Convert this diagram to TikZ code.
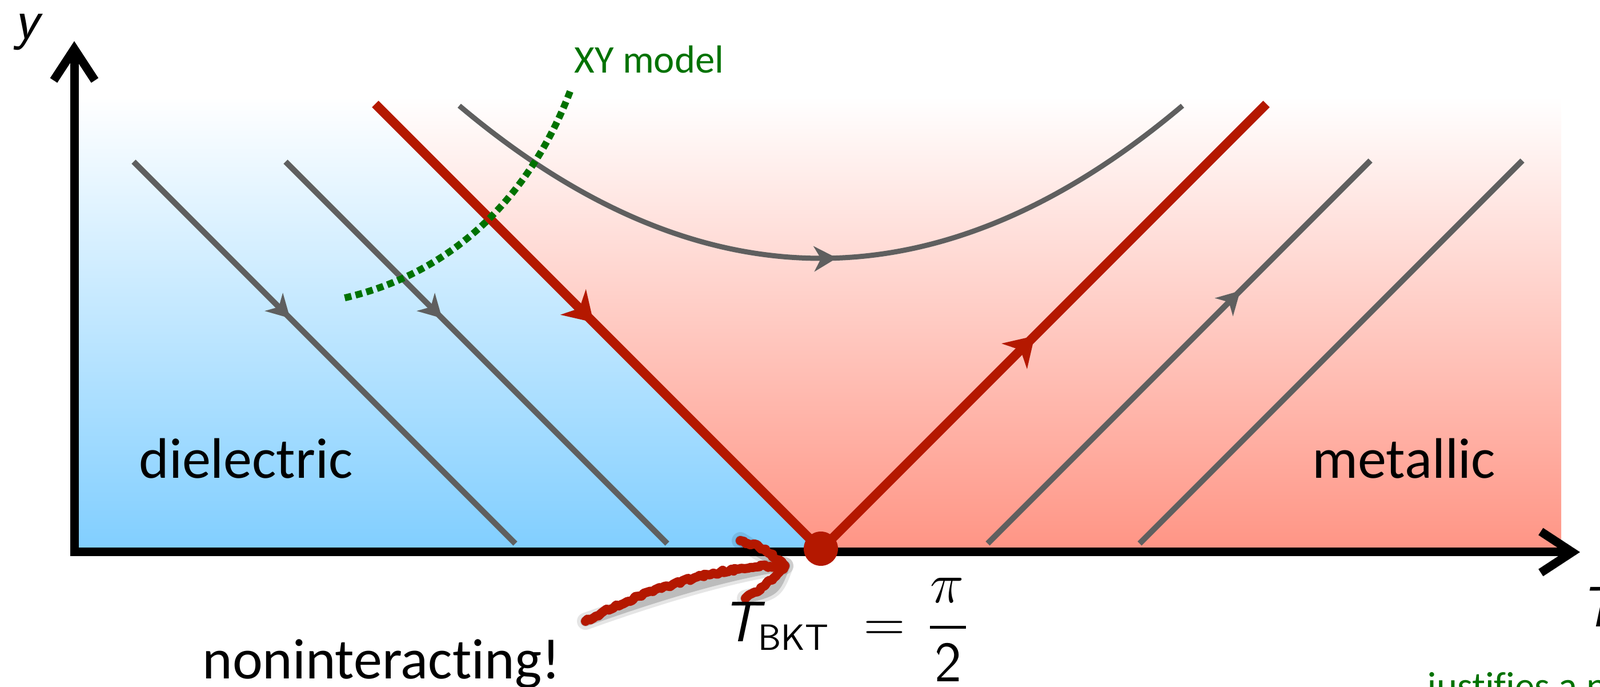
\documentclass[tikz,border=0pt]{standalone}
\usepackage{fix-cm}
\usepackage{fontspec}
\setmainfont{Carlito}[Ligatures=NoCommon]
\usetikzlibrary{arrows.meta,decorations.markings,decorations.pathmorphing}
\definecolor{flowred}{RGB}{180,24,0}
\definecolor{flowgray}{RGB}{95,95,95}
\definecolor{xygreen}{RGB}{0,114,0}
\definecolor{bluebot}{RGB}{128,206,255}
\definecolor{redbot}{RGB}{255,148,132}
\newcommand\bigsz{\fontsize{28.45}{34}\selectfont}
\newcommand\midsz{\fontsize{19.5}{23}\selectfont}
\newcommand\subsz{\fontsize{18.2}{22}\selectfont}
\tikzset{
  flow/.style={draw=flowgray, line width=0.10cm},
  crit/.style={draw=flowred, line width=0.16cm},
  grayarr/.style={postaction={decorate}, decoration={markings,
     mark=at position #1 with {\arrow{Stealth[length=0.40cm,width=0.44cm,inset=0.12cm,color=flowgray]}}}},
  redarr/.style={postaction={decorate}, decoration={markings,
     mark=at position #1 with {\arrow{Stealth[length=0.50cm,width=0.62cm,inset=0.15cm,color=flowred]}}}},
  axis/.style={draw=black, line width=0.15cm,
     arrows={Straight Barb[length=0.55cm,width=0.72cm]-Straight Barb[length=0.55cm,width=0.72cm]}},
  xydots/.style={draw=xygreen, line width=0.12cm, dash pattern=on 0.12cm off 0.075cm},
  lbl/.style={inner sep=0pt, anchor=base west},
  chalk/.style={draw=flowred, line width=0.16cm, line cap=round, line join=round,
     decorate, decoration={random steps, segment length=0.05cm, amplitude=0.025cm}},
  chalkshadow/.style={draw=black, line cap=round, line join=round}
}
\begin{document}
\begin{tikzpicture}
\useasboundingbox (0,0) rectangle (28.01,12.02);
\clip (0,0) rectangle (28.01,12.02);

% key coordinates
\coordinate (O) at (1.30,2.36);
\coordinate (ytip) at (1.30,11.30);
\coordinate (xtip) at (27.66,2.36);
\coordinate (V) at (14.37,2.40);
\coordinate (bnd) at (6.45,10.32);
\coordinate (Lred) at (6.57,10.20);
\coordinate (Rred) at (22.17,10.20);

% phase regions
\shade[top color=white, bottom color=bluebot]
  (O) -- (1.30,10.32) -- (bnd) -- (V) -- cycle;
\shade[top color=white, bottom color=redbot]
  (V) -- (bnd) -- (27.33,10.32) -- (27.33,2.36) -- cycle;

% axes
\draw[axis] (ytip) -- (O) -- (xtip);

% flow lines (dielectric side)
\coordinate (g1a) at (2.34,9.19);  \coordinate (g1b) at (9.02,2.51);
\coordinate (g2a) at (5.00,9.19);  \coordinate (g2b) at (11.68,2.51);
\draw[flow, grayarr=0.41] (g1a) -- (g1b);
\draw[flow, grayarr=0.41] (g2a) -- (g2b);
% flow lines (metallic side)
\coordinate (g3a) at (17.29,2.51); \coordinate (g3b) at (23.99,9.21);
\coordinate (g4a) at (19.95,2.51); \coordinate (g4b) at (26.65,9.21);
\draw[flow, grayarr=0.66] (g3a) -- (g3b);
\draw[flow] (g4a) -- (g4b);
% curved flow
\coordinate (pa) at (8.04,10.17); \coordinate (pb) at (20.70,10.17);
\draw[flow, line width=0.09cm, grayarr=0.52] (pa) .. controls (12.26,6.61) and (16.48,6.61) .. (pb);

% critical lines
\draw[crit, redarr=0.49] (Lred) -- (V);
\draw[crit, redarr=0.48] (V) -- (Rred);

% XY model line
\coordinate (xya) at (9.98,10.42);
\coordinate (xyb) at (6.00,6.80);
\draw[xydots] (xya) .. controls (9.4,8.9) and (8.2,7.3) .. (xyb);

% critical point
\fill[flowred] (14.37,2.42) circle (0.30);

% hand-drawn arrow
\coordinate (ct) at (10.25,1.15);
\coordinate (ch) at (13.74,2.12);
\coordinate (cu) at (12.96,2.56);
\coordinate (cl) at (13.05,1.55);
\begin{scope}[shift={(0.07,-0.17)}]
\draw[chalkshadow, opacity=0.10, line width=0.30cm] (ct) .. controls (11.3,1.72) and (12.6,2.13) .. (ch);
\draw[chalkshadow, opacity=0.10, line width=0.30cm] (cu) .. controls (13.4,2.42) .. (ch) .. controls (13.5,1.85) .. (cl);
\draw[chalkshadow, opacity=0.18, line width=0.18cm] (ct) .. controls (11.3,1.72) and (12.6,2.13) .. (ch);
\draw[chalkshadow, opacity=0.18, line width=0.18cm] (cu) .. controls (13.4,2.42) .. (ch) .. controls (13.5,1.85) .. (cl);
\end{scope}
\draw[chalk] (ct) .. controls (11.3,1.72) and (12.6,2.13) .. (ch);
\draw[chalk] (cu) .. controls (13.4,2.42) .. (ch) .. controls (13.5,1.85) .. (cl);

% labels
\node[lbl] (ylab) at (0.24,11.34) {\sffamily\itshape\bigsz y};
\node[lbl] (tlab) at (27.66,1.05) {\sffamily\itshape\bigsz T};
\node[lbl, text=xygreen] (xylab) at (10.05,10.74) {\midsz XY model};
\node[lbl] (diel) at (2.43,3.65) {\bigsz dielectric};
\node[lbl] (metal) at (22.97,3.65) {\bigsz metallic};
\node[lbl] (nonint) at (3.54,0.14) {\bigsz noninteracting!};
\node[lbl, text=xygreen] (justif) at (24.98,-0.22) {\midsz justifies a n};

% T_BKT = pi/2
\node[lbl] (tbkt) at (12.64,0.79) {\sffamily\itshape\bigsz T};
\node[lbl] (bkt) at (13.27,0.64) {\sffamily\subsz BKT};
\node[inner sep=0pt, anchor=base] (eq) at (15.48,0.79) {\bigsz$=$};
\draw[line width=0.05cm] (16.28,1.04) -- (16.91,1.04);
\node[inner sep=0pt, anchor=base] (pinum) at (16.58,1.47) {\bigsz$\pi$};
\node[inner sep=0pt, anchor=base] (twoden) at (16.60,0.09) {\sffamily\bigsz 2};
\end{tikzpicture}
\end{document}
